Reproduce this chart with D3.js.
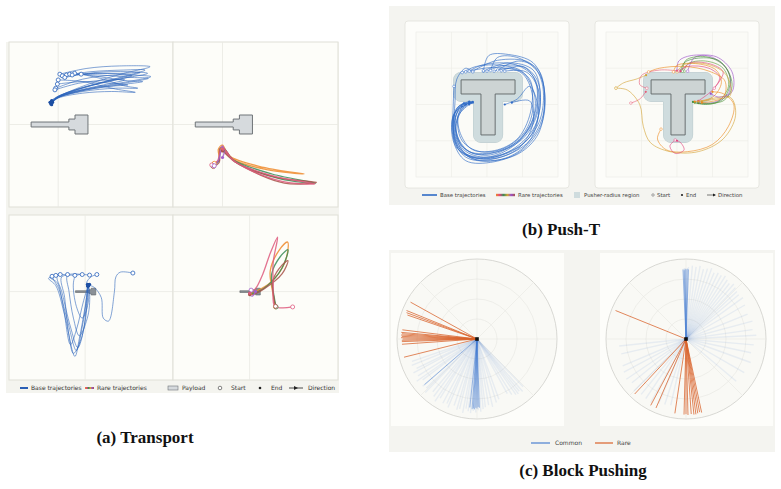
<!DOCTYPE html>
<html>
<head>
<meta charset="utf-8">
<script src="https://cdn.jsdelivr.net/npm/d3@7"></script>
<style>
  body { margin: 0; background: #fff; }
  text { font-family: "DejaVu Sans", sans-serif; }
</style>
</head>
<body>
<svg id="fig" width="781" height="489"></svg>
<script>
// ---------------- data: (a) Transport ----------------
var payloadShape = [[-0.33,0.03],[0.13,0.03],[0.13,0.066],[0.205,0.066],[0.205,0.115],[0.363,0.115],
  [0.363,-0.115],[0.205,-0.115],[0.205,-0.066],[0.13,-0.066],[0.13,-0.03],[-0.33,-0.03]];

var transTopBase = [
  [[0.02,0.61],[0.35,0.68],[0.75,0.71],[1.12,0.70],[0.8,0.62],[0.4,0.50],[0.05,0.36],[-0.08,0.28]],
  [[0.05,0.59],[0.4,0.64],[0.8,0.66],[1.06,0.66],[0.75,0.57],[0.35,0.46],[0.0,0.34],[-0.07,0.27]],
  [[0.10,0.60],[0.45,0.62],[0.8,0.62],[1.0,0.63],[0.7,0.55],[0.3,0.45],[-0.02,0.33],[-0.09,0.26]],
  [[0.14,0.61],[0.5,0.60],[0.9,0.57],[1.10,0.56],[0.8,0.50],[0.4,0.44],[0.02,0.35],[-0.08,0.29]],
  [[0.20,0.62],[0.5,0.58],[0.85,0.53],[1.03,0.52],[0.75,0.48],[0.35,0.42],[0.0,0.33],[-0.09,0.27]],
  [[0.28,0.61],[0.55,0.55],[0.8,0.47],[0.97,0.44],[0.7,0.44],[0.3,0.40],[-0.02,0.32],[-0.08,0.26]],
  [[0.0,0.54],[0.3,0.52],[0.7,0.43],[0.94,0.39],[0.65,0.40],[0.3,0.38],[0.0,0.32],[-0.07,0.27]],
  [[-0.01,0.49],[0.3,0.52],[0.65,0.50],[0.85,0.48],[0.6,0.46],[0.25,0.40],[-0.03,0.31],[-0.09,0.25]],
  [[-0.03,0.44],[0.3,0.55],[0.7,0.60],[0.90,0.59],[0.6,0.52],[0.25,0.43],[-0.04,0.32],[-0.1,0.27]],
  [[-0.04,0.42],[0.25,0.50],[0.6,0.54],[0.81,0.54],[0.55,0.48],[0.2,0.40],[-0.05,0.30],[-0.08,0.24]],
  [[0.08,0.57],[0.45,0.63],[0.85,0.64],[1.09,0.62],[0.8,0.56],[0.4,0.47],[0.02,0.34],[-0.08,0.27]],
  [[0.17,0.60],[0.5,0.62],[0.9,0.60],[1.13,0.58],[0.85,0.52],[0.45,0.45],[0.05,0.35],[-0.07,0.28]]
];
var transTopRare = [
  [[-0.1,-0.47],[-0.04,-0.43],[-0.05,-0.30],[0.0,-0.25],[0.08,-0.38],[0.5,-0.52],[0.99,-0.60],[0.55,-0.55],[0.12,-0.42],[0.0,-0.30]],
  [[-0.12,-0.50],[-0.05,-0.45],[-0.02,-0.28],[0.03,-0.30],[0.12,-0.42],[0.6,-0.60],[1.13,-0.71],[0.7,-0.66],[0.15,-0.45],[0.01,-0.31]],
  [[-0.11,-0.51],[-0.04,-0.46],[-0.03,-0.29],[0.04,-0.32],[0.15,-0.45],[0.65,-0.64],[1.14,-0.70],[0.75,-0.71],[0.2,-0.48],[0.0,-0.32]],
  [[-0.13,-0.49],[-0.06,-0.44],[-0.01,-0.27],[0.05,-0.33],[0.13,-0.44],[0.6,-0.62],[1.12,-0.72],[0.72,-0.69],[0.18,-0.47],[0.01,-0.30]],
  [[-0.1,-0.50],[-0.05,-0.44],[0.0,-0.26],[0.02,-0.34],[0.0,-0.40]]
];
var transBotBase = [
  [[-1.13,0.52],[-1.25,0.45],[-1.0,0.2],[-0.7,-0.8],[-0.35,-2.2],[-0.2,-1.6],[0.0,-0.5],[0.1,0.2]],
  [[-0.85,0.58],[-1.1,0.5],[-0.9,0.1],[-0.6,-1.0],[-0.3,-2.0],[-0.1,-1.2],[0.05,-0.2],[0.08,0.25]],
  [[-0.6,0.58],[-0.95,0.52],[-0.8,0.0],[-0.5,-1.2],[-0.25,-1.9],[0.0,-1.0],[0.1,0.0],[0.12,0.2]],
  [[-0.35,0.55],[-0.8,0.5],[-0.7,-0.2],[-0.55,-1.5],[-0.4,-2.1],[-0.1,-1.5],[0.05,-0.4],[0.09,0.18]],
  [[-0.1,0.58],[-0.6,0.55],[-0.55,0.0],[-0.4,-0.9],[-0.2,-1.5],[0.1,-0.8],[0.15,0.0],[0.1,0.22]],
  [[0.15,0.56],[-0.3,0.55],[-0.4,0.3],[-0.3,-0.5],[-0.1,-0.9],[0.1,-0.4],[0.12,0.24]],
  [[0.40,0.58],[0.2,0.5],[0.05,0.3],[0.1,0.1],[0.15,0.25]],
  [[-1.0,0.55],[-1.2,0.48],[-0.95,0.3],[-0.75,-0.5],[-0.5,-1.8],[-0.3,-1.3],[-0.05,-0.3],[0.1,0.2]],
  [[1.63,0.63],[1.2,0.66],[1.05,0.5],[1.0,0.0],[0.8,-1.0],[0.62,-0.9],[0.55,-0.2],[0.3,0.15],[0.12,0.22]]
];
var transBotRare = [
  [[0.88,-0.52],[0.8,-0.1],[0.7,0.7],[1.0,1.4],[1.29,1.68],[1.2,1.0],[0.7,0.3],[0.2,0.0],[0.02,-0.08]],
  [[0.9,-0.52],[0.82,-0.1],[0.75,0.6],[1.05,1.2],[1.3,1.42],[1.1,0.8],[0.6,0.2],[0.15,-0.05],[0.0,-0.05]],
  [[0.88,-0.5],[0.82,-0.2],[0.8,0.4],[1.1,0.9],[1.3,1.05],[1.1,0.6],[0.5,0.1],[0.1,-0.1],[0.0,-0.1]],
  [[1.46,-0.52],[1.1,-0.55],[0.85,-0.5],[0.8,0.3],[0.8,1.0],[0.95,1.85],[0.7,1.3],[0.45,0.6],[0.2,0.1],[0.0,-0.05]],
  [[0.05,0.05],[-0.02,-0.1],[0.1,-0.15],[0.2,0.0]]
];
var transRareColors = ["#ef8a2c", "#3a8c57", "#a8544a", "#de5a7e", "#a35fca"];

// ---------------- data: (b) Push-T ----------------
var tShape = [[1.27,1.32],[2.79,1.32],[2.79,1.71],[2.23,1.71],[2.23,2.84],[1.83,2.84],[1.83,1.71],[1.27,1.71]];
var pusherRadius = 0.21;
var pushBase = [
  [[2.0,1.08],[2.5,0.92],[3.1,1.0],[3.4,1.5],[3.3,2.4],[2.8,3.1],[2.0,3.45],[1.35,3.25],[1.1,2.6],[1.25,2.05],[1.55,1.95]],
  [[1.9,1.08],[2.6,0.85],[3.3,1.05],[3.5,1.7],[3.35,2.6],[2.7,3.25],[1.9,3.5],[1.25,3.3],[1.05,2.7],[1.15,2.1],[1.5,1.92]],
  [[2.1,1.06],[2.3,0.7],[2.9,0.72],[3.5,1.2],[3.6,2.2],[3.2,3.0],[2.4,3.45],[1.6,3.5],[1.15,3.1],[1.05,2.4],[1.3,1.98],[1.6,1.93]],
  [[1.5,1.08],[1.9,0.9],[2.8,0.9],[3.35,1.3],[3.4,2.2],[3.0,2.9],[2.3,3.3],[1.6,3.35],[1.2,2.95],[1.12,2.3],[1.4,2.0]],
  [[1.4,1.1],[2.2,0.98],[3.0,1.15],[3.3,1.9],[3.1,2.7],[2.5,3.2],[1.8,3.3],[1.3,3.0],[1.18,2.4],[1.4,2.0]],
  [[2.3,1.05],[2.9,0.8],[3.45,1.05],[3.62,1.8],[3.45,2.8],[2.9,3.35],[2.1,3.55],[1.4,3.45],[1.05,2.9],[1.08,2.25],[1.5,1.95]],
  [[1.07,1.5],[1.05,2.0],[1.05,2.7],[1.25,3.25],[1.8,3.55],[2.6,3.45],[3.2,3.0],[3.45,2.2],[3.2,1.5],[2.85,1.85],[2.5,2.0]],
  [[1.6,1.08],[2.3,0.78],[3.2,0.85],[3.55,1.4],[3.5,2.4],[3.0,3.1],[2.2,3.45],[1.45,3.4],[1.08,2.8],[1.2,2.15],[1.55,1.95]],
  [[2.2,1.08],[2.7,1.0],[3.2,1.3],[3.25,2.1],[2.9,2.9],[2.3,3.25],[1.6,3.25],[1.25,2.8],[1.2,2.25],[1.5,1.98]],
  [[1.9,1.07],[2.05,0.65],[2.6,0.62],[3.3,0.85],[3.6,1.5],[3.55,2.5],[3.0,3.25],[2.2,3.58],[1.4,3.55],[1.05,3.0],[1.05,2.3],[1.35,1.97]],
  [[1.3,1.12],[1.7,0.95],[2.4,0.92],[3.0,1.1],[3.35,1.8],[3.25,2.5],[2.75,3.1],[2.0,3.4],[1.35,3.2],[1.12,2.6],[1.3,2.05]],
  [[2.4,1.07],[3.0,0.95],[3.4,1.3],[3.5,2.0],[3.2,2.9],[2.5,3.35],[1.7,3.45],[1.15,3.2],[1.05,2.55],[1.2,2.05],[1.6,1.95]],
  [[1.6,1.1],[1.4,1.0],[1.15,1.3],[1.1,1.9],[1.1,2.8],[1.4,3.35],[2.1,3.5],[2.9,3.2],[3.3,2.5],[3.2,1.9],[2.7,1.95]],
  [[2.5,1.08],[3.1,1.1],[3.45,1.6],[3.4,2.3],[3.0,2.95],[2.3,3.3],[1.5,3.3],[1.15,2.9],[1.2,2.3],[1.5,2.0]]
];
var pushRare = [
  [[2.0,1.08],[2.05,0.8],[2.4,0.65],[3.0,0.7],[3.45,1.1],[3.45,1.7],[3.0,1.95],[2.6,1.95]],
  [[2.1,1.08],[2.2,0.85],[2.6,0.72],[3.2,0.8],[3.5,1.3],[3.3,1.85],[2.8,2.0],[2.45,1.93]],
  [[2.2,1.08],[2.3,0.88],[2.8,0.8],[3.3,1.0],[3.45,1.5],[3.1,1.95],[2.5,1.95]],
  [[1.9,1.1],[2.0,0.92],[2.6,0.88],[3.1,1.05],[3.25,1.4],[3.0,1.8],[2.5,1.92]],
  [[2.05,1.08],[2.3,0.95],[2.9,1.0],[3.2,1.25],[3.0,1.6],[2.6,1.9]],
  [[0.28,1.55],[0.5,1.4],[0.85,1.3],[1.13,1.19]],
  [[0.7,1.96],[0.95,1.85],[1.12,1.65]],
  [[1.55,2.68],[1.45,2.95],[1.7,3.25],[2.3,3.3],[3.0,3.1],[3.45,2.6],[3.6,2.0],[3.3,1.7],[3.0,1.65]],
  [[0.28,1.55],[0.6,1.6],[0.95,2.0],[1.05,2.6],[1.25,3.05],[1.8,3.3],[2.6,3.3],[3.3,2.95],[3.65,2.3],[3.5,1.8],[2.7,1.92]],
  [[1.95,2.98],[1.8,3.15],[1.95,3.35],[2.2,3.25],[2.1,3.05],[2.0,3.0]],
  [[2.3,1.08],[2.5,0.7],[3.1,0.68],[3.55,1.1],[3.55,1.65],[3.2,1.8],[2.95,1.7]],
  [[1.2,1.1],[1.5,1.0],[2.2,0.95],[2.9,1.08],[3.35,1.35],[3.3,1.8],[2.7,1.95]],
  [[2.15,1.08],[2.25,0.78],[2.8,0.68],[3.35,0.95],[3.55,1.5],[3.3,1.9],[2.6,1.96]],
  [[3.05,1.55],[3.2,1.35],[3.3,1.1],[3.0,0.9],[2.4,0.85],[2.1,1.08]],
  [[1.15,1.55],[0.95,1.45],[1.0,1.2],[1.5,1.05],[2.0,1.07]],
  [[2.0,1.1],[2.2,0.9],[2.9,0.9],[3.4,1.2],[3.5,1.75],[3.1,1.85],[2.6,1.92]]
];
var pushRareColors = ["#9b4fc9", "#3f8f3f", "#5f9a3a", "#ee8a22", "#e0457e", "#d4a437", "#e6607a", "#ee8a22",
                      "#d4a437", "#e0457e", "#9b4fc9", "#ee8a22", "#4d8f3a", "#e0457e", "#e6607a", "#d4a437"];

// ---------------- data: (c) Block Pushing ----------------
// ray angles in degrees (0 = right, counter-clockwise), lengths as fraction of radius
var leftFaintAngles = [199, 202, 206, 208, 212, 215, 217, 221, 224, 226, 230, 233, 236, 238, 242, 245, 247, 251, 254, 256,
  259, 261, 263, 265, 267, 269, 271, 273, 275, 277, 280, 283, 287, 290, 299, 302, 305, 307, 309, 311, 314];
var leftFaintLengths = [0.86, 0.88, 0.84, 0.9, 0.87, 0.92, 0.85, 0.9, 0.88, 0.93, 0.86, 0.9, 0.94, 0.87, 0.91, 0.89, 0.93, 0.88, 0.92, 0.9,
  0.94, 0.88, 0.91, 0.93, 0.9, 0.92, 0.89, 0.91, 0.88, 0.86, 0.84, 0.87, 0.83, 0.8, 0.78, 0.82, 0.85, 0.86, 0.84, 0.87, 0.83];
var leftCommonAngles = [221, 264, 266, 267, 268, 269, 270, 271, 272];
var leftCommonLengths = [0.87, 0.86, 0.88, 0.87, 0.88, 0.86, 0.87, 0.85, 0.86];
var leftRareAngles = [151, 158, 159.5, 161, 173, 175, 176, 177, 178, 179, 180, 181, 182, 184, 194];
var leftRareLengths = [0.95, 0.95, 0.94, 0.92, 0.94, 0.95, 0.94, 0.95, 0.94, 0.95, 0.93, 0.94, 0.94, 0.94, 0.94];

var rightFaintAngles = [92, 88, 85, 82, 79, 76, 73, 70, 67, 64, 61, 58, 55, 52, 49, 46, 43, 40, 36, 30, 22, 15, 8, 3,
  355, 348, 340, 330, 320, 203, 208, 214, 219, 225, 231, 236, 241, 247, 252, 257, 186, 193];
var rightFaintLengths = [0.88, 0.9, 0.92, 0.91, 0.93, 0.9, 0.92, 0.94, 0.9, 0.92, 0.91, 0.93, 0.9, 0.88, 0.91, 0.89, 0.87, 0.86, 0.88, 0.85, 0.83, 0.86, 0.84, 0.88,
  0.85, 0.83, 0.86, 0.84, 0.82, 0.86, 0.88, 0.9, 0.87, 0.92, 0.89, 0.9, 0.91, 0.88, 0.86, 0.85, 0.84, 0.83];
var rightCommonAngles = [88, 89, 90, 90.8, 91.5, 92.5];
var rightCommonLengths = [0.87, 0.88, 0.87, 0.88, 0.86, 0.87];
var rightRareAngles = [158, 227, 242, 246.5, 261.5, 268.5, 270, 271.5, 274, 276, 277.5, 279, 280.5, 282];
var rightRareLengths = [0.95, 0.94, 0.94, 0.94, 0.94, 0.945, 0.94, 0.95, 0.94, 0.95, 0.95, 0.94, 0.93, 0.94];

// ---------------- drawing ----------------
var svg = d3.select("#fig");
var baseBlue = "#2b63bb";
var smooth = d3.curveCatmullRom.alpha(0.5);

var defs = svg.append("defs");
var grad = defs.append("linearGradient").attr("id", "rareGrad");
["#ef8a2c", "#e0457e", "#3a8c57", "#d4a437", "#9b4fc9", "#a8544a"].forEach(function(c, i, arr) {
  grad.append("stop").attr("offset", (i / (arr.length - 1) * 100) + "%").attr("stop-color", c);
});

// ===== (a) Transport =====
svg.append("rect").attr("x", 6).attr("y", 42).attr("width", 333).attr("height", 351).attr("fill", "#f4f4ef");

var aPanels = [
  {x: 9,   y: 42,  w: 164, h: 165, xd: [-0.6, 1.4], yd: [-1, 1],     trajs: transTopBase, rare: false},
  {x: 173, y: 42,  w: 165, h: 165, xd: [-0.6, 1.4], yd: [-1, 1],     trajs: transTopRare, rare: true},
  {x: 9,   y: 215, w: 164, h: 165, xd: [-2.6, 3.0], yd: [-3.0, 2.6], trajs: transBotBase, rare: false},
  {x: 173, y: 215, w: 165, h: 165, xd: [-2.6, 3.0], yd: [-3.0, 2.6], trajs: transBotRare, rare: true}
];

aPanels.forEach(function(p) {
  var g = svg.append("g");
  var x = d3.scaleLinear().domain(p.xd).range([p.x, p.x + p.w]);
  var y = d3.scaleLinear().domain(p.yd).range([p.y + p.h, p.y]);
  g.append("rect").attr("x", p.x).attr("y", p.y).attr("width", p.w).attr("height", p.h)
    .attr("fill", "#fdfdf9").attr("stroke", "#dfdfd7").attr("stroke-width", 1);
  g.append("line").attr("x1", x(0)).attr("x2", x(0)).attr("y1", p.y).attr("y2", p.y + p.h)
    .attr("stroke", "#e8e8e2").attr("stroke-width", 0.8);
  g.append("line").attr("x1", p.x).attr("x2", p.x + p.w).attr("y1", y(0)).attr("y2", y(0))
    .attr("stroke", "#e8e8e2").attr("stroke-width", 0.8);

  var small = p.xd[1] - p.xd[0] > 3;
  g.append("path").datum(payloadShape)
    .attr("d", function(d) { return "M" + d.map(function(q) { return x(q[0]) + "," + y(q[1]); }).join("L") + "Z"; })
    .attr("fill", small ? "#8a9096" : "#d6dadd").attr("stroke", small ? "#5f6468" : "#6f7478")
    .attr("stroke-width", small ? 0.6 : 1);

  var line = d3.line().curve(smooth).x(function(d) { return x(d[0]); }).y(function(d) { return y(d[1]); });
  var col = function(d, i) { return p.rare ? transRareColors[i % transRareColors.length] : baseBlue; };
  g.selectAll(".traj").data(p.trajs).enter().append("path")
    .attr("d", line)
    .attr("fill", "none")
    .attr("stroke", col)
    .attr("stroke-width", p.rare ? 1.3 : 0.9)
    .attr("stroke-opacity", p.rare ? 0.85 : 0.65);

  // start markers
  g.selectAll(".st").data(p.trajs).enter().append("circle")
    .attr("cx", function(d) { return x(d[0][0]); }).attr("cy", function(d) { return y(d[0][1]); })
    .attr("r", 2).attr("fill", "#fff").attr("stroke", col).attr("stroke-width", 0.8);
  // end markers
  g.selectAll(".en").data(p.trajs).enter().append("circle")
    .attr("cx", function(d) { return x(d[d.length - 1][0]); }).attr("cy", function(d) { return y(d[d.length - 1][1]); })
    .attr("r", 1.6)
    .attr("fill", function(d, i) { return p.rare ? transRareColors[i % transRareColors.length] : "#1d4fa3"; });
});

// legend (a)
var la = svg.append("g").attr("transform", "translate(0,388)").style("font-size", "6px").attr("fill", "#333");
la.append("line").attr("x1", 20).attr("x2", 28).attr("y1", 0).attr("y2", 0).attr("stroke", "#2b5fb5").attr("stroke-width", 2);
la.append("text").attr("x", 31).attr("y", 2).text("Base trajectories");
la.append("rect").attr("x", 85).attr("y", -1).attr("width", 9).attr("height", 2).attr("fill", "url(#rareGrad)");
la.append("text").attr("x", 97).attr("y", 2).text("Rare trajectories");
la.append("rect").attr("x", 168).attr("y", -2).attr("width", 10).attr("height", 4).attr("fill", "#d6dadd").attr("stroke", "#6f7478").attr("stroke-width", 0.6);
la.append("text").attr("x", 182).attr("y", 2).text("Payload");
la.append("circle").attr("cx", 220).attr("cy", 0).attr("r", 1.8).attr("fill", "#fff").attr("stroke", "#333").attr("stroke-width", 0.6);
la.append("text").attr("x", 231).attr("y", 2).text("Start");
la.append("circle").attr("cx", 260).attr("cy", 0).attr("r", 1.3).attr("fill", "#222");
la.append("text").attr("x", 271).attr("y", 2).text("End");
la.append("line").attr("x1", 289).attr("x2", 303).attr("y1", 0).attr("y2", 0).attr("stroke", "#222").attr("stroke-width", 0.8);
la.append("path").attr("d", "M294,-2L298,0L294,2Z").attr("fill", "#222");
la.append("text").attr("x", 308).attr("y", 2).text("Direction");

// ===== (b) Push-T =====
svg.append("rect").attr("x", 389).attr("y", 6).attr("width", 386).attr("height", 199).attr("fill", "#f4f4f0");

var bCards = [
  {cx: 405, px: 416, trajs: pushBase, rare: false},
  {cx: 595, px: 606, trajs: pushRare, rare: true}
];
bCards.forEach(function(c) {
  var g = svg.append("g");
  g.append("rect").attr("x", c.cx).attr("y", 21).attr("width", 164).attr("height", 167).attr("rx", 3)
    .attr("fill", "#fdfdfa").attr("stroke", "#e2e2dc").attr("stroke-width", 0.8);
  var x = d3.scaleLinear().domain([0, 4]).range([c.px, c.px + 142]);
  var y = d3.scaleLinear().domain([0, 4]).range([32, 177]);
  g.append("rect").attr("x", x(0)).attr("y", y(0)).attr("width", 142).attr("height", 145)
    .attr("fill", "#fbfbf7").attr("stroke", "#ececE6").attr("stroke-width", 0.6);
  [1, 2, 3].forEach(function(v) {
    g.append("line").attr("x1", x(v)).attr("x2", x(v)).attr("y1", y(0)).attr("y2", y(4)).attr("stroke", "#ecece6").attr("stroke-width", 0.6);
    g.append("line").attr("x1", x(0)).attr("x2", x(4)).attr("y1", y(v)).attr("y2", y(v)).attr("stroke", "#ecece6").attr("stroke-width", 0.6);
  });
  var tPath = "M" + tShape.map(function(q) { return x(q[0]) + "," + y(q[1]); }).join("L") + "Z";
  var rpx = x(pusherRadius) - x(0);
  g.append("path").attr("d", tPath).attr("fill", "#c3d1d4").attr("stroke", "#bccbce")
    .attr("stroke-width", 2 * rpx + 1).attr("stroke-linejoin", "round");
  g.append("path").attr("d", tPath).attr("fill", "#cfdcde").attr("stroke", "#cfdcde")
    .attr("stroke-width", 2 * rpx).attr("stroke-linejoin", "round");
  g.append("path").attr("d", tPath).attr("fill", "#cdd4d4").attr("stroke", "#5f6465").attr("stroke-width", 0.9);

  var line = d3.line().curve(smooth).x(function(d) { return x(d[0]); }).y(function(d) { return y(d[1]); });
  var col = function(d, i) { return c.rare ? pushRareColors[i % pushRareColors.length] : "#2f6bc6"; };
  g.selectAll(".traj").data(c.trajs).enter().append("path")
    .attr("d", line).attr("fill", "none").attr("stroke", col)
    .attr("stroke-width", 0.7).attr("stroke-opacity", 0.9);
  g.selectAll(".st").data(c.trajs).enter().append("circle")
    .attr("cx", function(d) { return x(d[0][0]); }).attr("cy", function(d) { return y(d[0][1]); })
    .attr("r", 1.3).attr("fill", "#fff").attr("stroke", col).attr("stroke-width", 0.5);
  g.selectAll(".en").data(c.trajs).enter().append("circle")
    .attr("cx", function(d) { return x(d[d.length - 1][0]); }).attr("cy", function(d) { return y(d[d.length - 1][1]); })
    .attr("r", 1.1).attr("fill", col);
});

// legend (b)
var lb = svg.append("g").attr("transform", "translate(0,195)").style("font-size", "5.4px").attr("fill", "#444");
lb.append("line").attr("x1", 422).attr("x2", 437).attr("y1", 0).attr("y2", 0).attr("stroke", "#2f6bc6").attr("stroke-width", 1.6);
lb.append("text").attr("x", 440).attr("y", 2).text("Base trajectories");
lb.append("rect").attr("x", 496).attr("y", -1.2).attr("width", 19).attr("height", 2.4).attr("fill", "url(#rareGrad)");
lb.append("text").attr("x", 518).attr("y", 2).text("Rare trajectories");
lb.append("rect").attr("x", 574).attr("y", -3).attr("width", 6).attr("height", 6).attr("fill", "#cfdcde");
lb.append("text").attr("x", 584).attr("y", 2).text("Pusher-radius region");
lb.append("circle").attr("cx", 653).attr("cy", 0).attr("r", 1.2).attr("fill", "#fff").attr("stroke", "#444").attr("stroke-width", 0.5);
lb.append("text").attr("x", 657).attr("y", 2).text("Start");
lb.append("circle").attr("cx", 682).attr("cy", 0).attr("r", 1.1).attr("fill", "#222");
lb.append("text").attr("x", 686).attr("y", 2).text("End");
lb.append("line").attr("x1", 707).attr("x2", 715).attr("y1", 0).attr("y2", 0).attr("stroke", "#222").attr("stroke-width", 0.6);
lb.append("path").attr("d", "M713,-1.5L716,0L713,1.5Z").attr("fill", "#222");
lb.append("text").attr("x", 718).attr("y", 2).text("Direction");

// ===== (c) Block Pushing =====
svg.append("rect").attr("x", 389).attr("y", 250).attr("width", 386).attr("height", 202).attr("fill", "#f4f4f0");

var cPlots = [
  {fx: 391, cx: 477, faint: [leftFaintAngles, leftFaintLengths], common: [leftCommonAngles, leftCommonLengths], rare: [leftRareAngles, leftRareLengths]},
  {fx: 600, cx: 686, faint: [rightFaintAngles, rightFaintLengths], common: [rightCommonAngles, rightCommonLengths], rare: [rightRareAngles, rightRareLengths]}
];
var rScale = d3.scaleLinear().domain([0, 1]).range([0, 80]);
cPlots.forEach(function(p) {
  var cy = 339;
  var g = svg.append("g");
  g.append("rect").attr("x", p.fx).attr("y", 253).attr("width", 173).attr("height", 173).attr("fill", "#fdfdfa");
  var gg = g.append("g").attr("transform", "translate(" + p.cx + "," + cy + ")");
  gg.append("circle").attr("r", rScale(1)).attr("fill", "#f9f9f5").attr("stroke", "#cfcfca").attr("stroke-width", 0.8);
  [0.25, 0.5, 0.75].forEach(function(v) {
    gg.append("circle").attr("r", rScale(v)).attr("fill", "none").attr("stroke", "#e6e6e0").attr("stroke-width", 0.6);
  });
  [0, 45, 90, 135, 180, 225, 270, 315].forEach(function(a) {
    var t = a * Math.PI / 180;
    gg.append("line").attr("x1", 0).attr("y1", 0)
      .attr("x2", rScale(1) * Math.cos(t)).attr("y2", -rScale(1) * Math.sin(t))
      .attr("stroke", "#e8e8e2").attr("stroke-width", 0.6);
  });
  function rays(set, color, width, opacity) {
    var data = set[0].map(function(a, i) { return {a: a, r: set[1][i]}; });
    gg.append("g").selectAll("line").data(data).enter().append("line")
      .attr("x1", 0).attr("y1", 0)
      .attr("x2", function(d) { return rScale(d.r) * Math.cos(d.a * Math.PI / 180); })
      .attr("y2", function(d) { return -rScale(d.r) * Math.sin(d.a * Math.PI / 180); })
      .attr("stroke", color).attr("stroke-width", width).attr("stroke-opacity", opacity);
  }
  rays(p.faint, "#4a7fd0", 1.4, 0.1);
  rays(p.common, "#3f78d0", 0.9, 0.55);
  rays(p.rare, "#d9622b", 0.9, 0.85);
  gg.append("rect").attr("x", -1.8).attr("y", -1.8).attr("width", 3.6).attr("height", 3.6).attr("fill", "#111");
});

var lc = svg.append("g").attr("transform", "translate(0,443)").style("font-size", "6px").attr("fill", "#444");
lc.append("line").attr("x1", 531).attr("x2", 550).attr("y1", 0).attr("y2", 0).attr("stroke", "#4a7fd0").attr("stroke-width", 1.2);
lc.append("text").attr("x", 555).attr("y", 2).text("Common");
lc.append("line").attr("x1", 595).attr("x2", 613).attr("y1", 0).attr("y2", 0).attr("stroke", "#d9622b").attr("stroke-width", 1.2);
lc.append("text").attr("x", 617).attr("y", 2).text("Rare");

// ===== captions =====
var captions = [
  {x: 145, y: 443, t: "(a) Transport"},
  {x: 561, y: 235, t: "(b) Push-T"},
  {x: 583, y: 476, t: "(c) Block Pushing"}
];
svg.selectAll(".cap").data(captions).enter().append("text")
  .attr("x", function(d) { return d.x; }).attr("y", function(d) { return d.y; })
  .attr("text-anchor", "middle")
  .style("font-family", "'Liberation Serif', 'Times New Roman', serif")
  .style("font-weight", "bold").style("font-size", "17px").attr("fill", "#111")
  .text(function(d) { return d.t; });
</script>
</body>
</html>
